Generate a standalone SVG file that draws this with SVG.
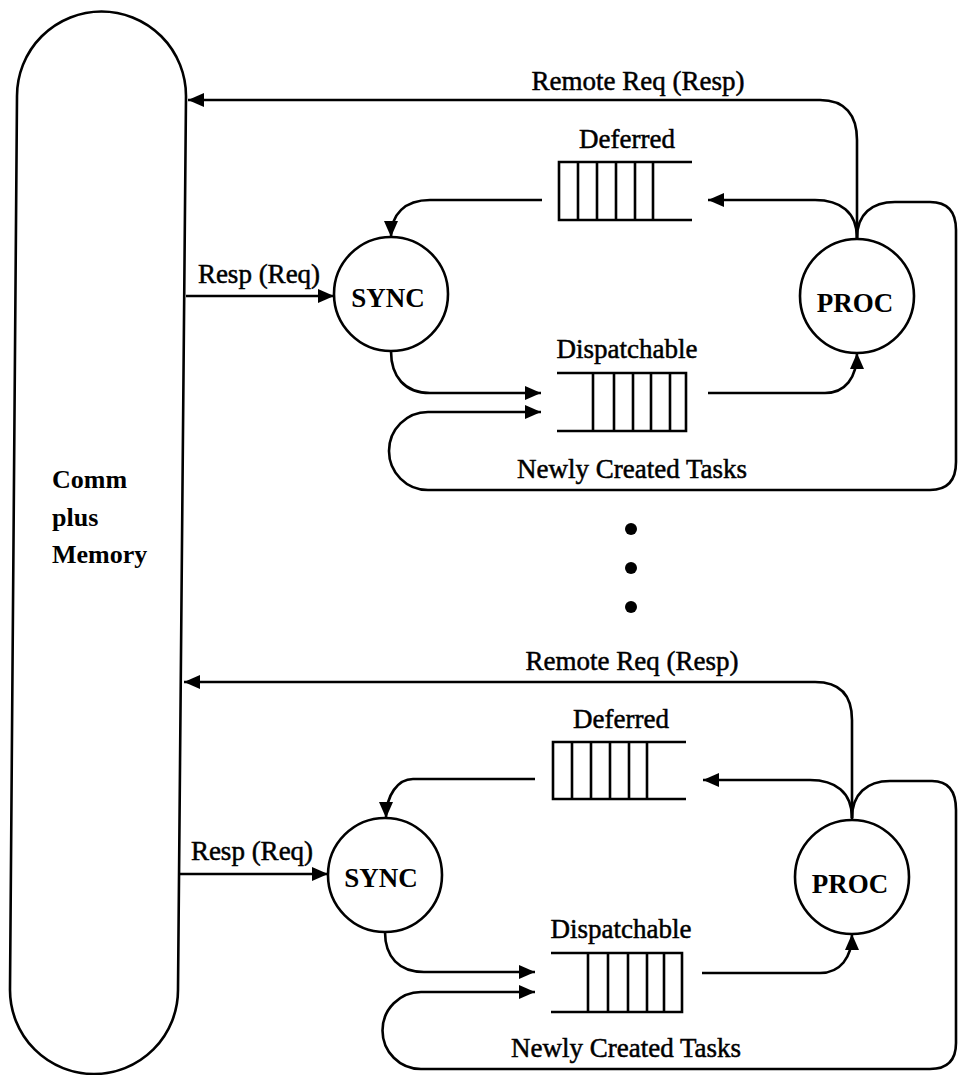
<svg xmlns="http://www.w3.org/2000/svg" width="959" height="1075" viewBox="0 0 959 1075">
<style>
.ln{fill:none;stroke:#000;stroke-width:2.6}
.nd{fill:#fff;stroke:#000;stroke-width:2.6}
.q{fill:none;stroke:#000;stroke-width:2.6}
.lbl{font-family:"Liberation Serif","Times New Roman",serif;font-size:27px;fill:#000;stroke:#000;stroke-width:0.5;text-anchor:middle}
.bold{font-family:"Liberation Serif","Times New Roman",serif;font-size:27px;font-weight:bold;fill:#000;text-anchor:middle}
.mem{font-family:"Liberation Serif","Times New Roman",serif;font-size:26px;font-weight:bold;fill:#000}
</style>
<defs>
<marker id="ah" markerUnits="userSpaceOnUse" markerWidth="17" markerHeight="14" refX="16" refY="7" orient="auto">
<path d="M0,0 L16,7 L0,14 Z" fill="#000"/>
</marker>
</defs>
<rect width="959" height="1075" fill="#fff"/>

<g id="memory">
<path class="nd" d="M17,96 A84.5,84.5 0 0 1 186,96 L178,990 A84,84 0 0 1 10,990 Z"/>
<text class="mem" x="52" y="488">Comm</text>
<text class="mem" x="52" y="526">plus</text>
<text class="mem" x="52" y="563">Memory</text>
</g>

<g id="connectors">
<path class="ln" d="M857,240 L857,140 C857,115 845,100 820,100 L188,100" marker-end="url(#ah)"/>
<path class="ln" d="M857,238 C857,212 840,200 815,200 L708,200" marker-end="url(#ah)"/>
<path class="ln" d="M857,238 C857,214 872,202 895,202 L930,202 C948,202 956,212 956,230 L956,462 C956,480 948,490 930,490 L428,490 A39,39 0 0 1 428,412 L541,412" marker-end="url(#ah)"/>
<path class="ln" d="M391,351 C391,377 405,393 430,393 L541,393" marker-end="url(#ah)"/>
<path class="ln" d="M708,393 L825,393 C845,393 857,378 857,353" marker-end="url(#ah)"/>
<path class="ln" d="M542,200 L430,200 C405,200 391,214 391,237" marker-end="url(#ah)"/>
<path class="ln" d="M186,296 L334,296" marker-end="url(#ah)"/>

<path class="ln" d="M852,820 L852,720 C852,695 840,682 815,682 L184,682" marker-end="url(#ah)"/>
<path class="ln" d="M852,818 C852,792 835,780 810,780 L703,780" marker-end="url(#ah)"/>
<path class="ln" d="M852,818 C852,794 867,781 890,781 L932,781 C949,781 956,792 956,810 L956,1043 C956,1060 948,1069 930,1069 L421,1069 A38.5,38.5 0 0 1 421,992 L535,992" marker-end="url(#ah)"/>
<path class="ln" d="M385,932 C385,957 399,972 424,972 L535,972" marker-end="url(#ah)"/>
<path class="ln" d="M702,973 L820,973 C840,973 852,958 852,934" marker-end="url(#ah)"/>
<path class="ln" d="M535,779 L413,779 C398,779 386,795 386,818" marker-end="url(#ah)"/>
<path class="ln" d="M180,874 L328,874" marker-end="url(#ah)"/>
</g>

<g id="labels">
<text class="lbl" x="638" y="90">Remote Req (Resp)</text>
<text class="lbl" x="259" y="283">Resp (Req)</text>
<text class="lbl" x="632" y="478">Newly Created Tasks</text>
<text class="lbl" x="632" y="670">Remote Req (Resp)</text>
<text class="lbl" x="252" y="860">Resp (Req)</text>
<text class="lbl" x="626" y="1057">Newly Created Tasks</text>
</g>

<g id="sync1">
<circle class="nd" cx="391" cy="294" r="57"/>
<text class="bold" x="388" y="307">SYNC</text>
</g>
<g id="proc1">
<circle class="nd" cx="857" cy="296" r="57"/>
<text class="bold" x="855" y="312">PROC</text>
</g>
<g id="deferred1">
<text class="lbl" x="627" y="148">Deferred</text>
<path class="q" d="M692,162 L559,162 L559,220 L692,220 M578,162 V220 M597,162 V220 M616,162 V220 M635,162 V220 M653,162 V220"/>
</g>
<g id="dispatchable1">
<text class="lbl" x="627" y="358">Dispatchable</text>
<path class="q" d="M557,373 L686,373 L686,431 L557,431 M593,373 V431 M614,373 V431 M633,373 V431 M651,373 V431 M670,373 V431"/>
</g>

<g id="sync2">
<circle class="nd" cx="385" cy="875" r="57"/>
<text class="bold" x="381" y="887">SYNC</text>
</g>
<g id="proc2">
<circle class="nd" cx="852" cy="877" r="57"/>
<text class="bold" x="850" y="893">PROC</text>
</g>
<g id="deferred2">
<text class="lbl" x="621" y="728">Deferred</text>
<path class="q" d="M686,742 L553,742 L553,799 L686,799 M572,742 V799 M591,742 V799 M610,742 V799 M629,742 V799 M647,742 V799"/>
</g>
<g id="dispatchable2">
<text class="lbl" x="621" y="938">Dispatchable</text>
<path class="q" d="M551,953 L682,953 L682,1012 L551,1012 M588,953 V1012 M608,953 V1012 M628,953 V1012 M647,953 V1012 M664,953 V1012"/>
</g>

<g id="ellipsis">
<circle cx="631" cy="529" r="6" fill="#000"/>
<circle cx="631" cy="568" r="6" fill="#000"/>
<circle cx="631" cy="607" r="6" fill="#000"/>
</g>
</svg>
